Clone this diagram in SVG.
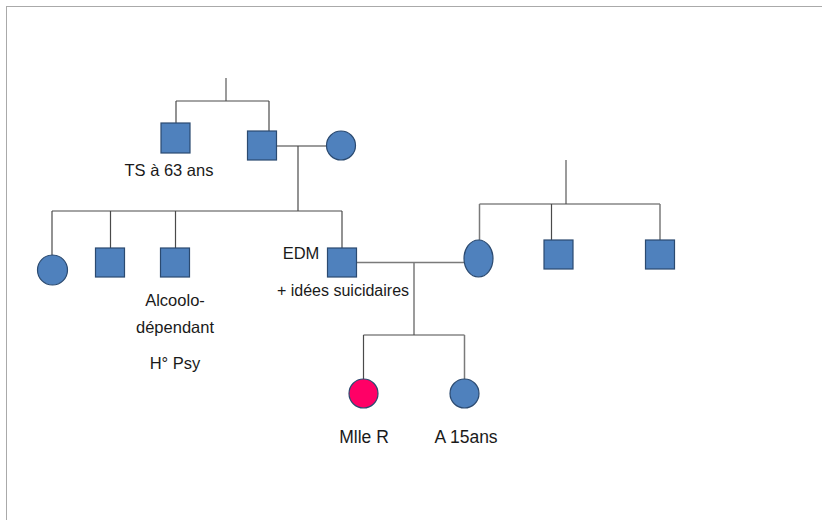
<svg xmlns="http://www.w3.org/2000/svg" width="822" height="520" viewBox="0 0 822 520">
<style>
.m{fill:#4F81BD;stroke:#2B4A70;stroke-width:1.2}
.p{fill:#FF0066;stroke:#2B4A70;stroke-width:1.2}
.l{stroke:#4a4a4a;stroke-width:1.2;fill:none}
.g{stroke:#7a7a7a;stroke-width:1.5;fill:none}
text{font-family:"Liberation Sans",Arial,sans-serif;font-size:16.5px;fill:#1a1a1a;text-anchor:middle}
</style>
<rect x="6.5" y="6.5" width="830" height="530" fill="#fff" stroke="#555" stroke-width="1" stroke-dasharray="1,1"/>
<g id="connectors">
<path class="g" d="M226 78V101"/>
<path class="l" d="M176 101H269"/>
<path class="l" d="M176 101V123"/>
<path class="l" d="M269 101V131"/>
<path class="g" d="M277 146H327"/>
<path class="l" d="M298 146V211"/>
<path class="l" d="M52 211H342"/>
<path class="l" d="M52 211V255"/>
<path class="l" d="M110.5 211V248"/>
<path class="l" d="M175.5 211V248"/>
<path class="l" d="M342 211V248"/>
<path class="g" d="M356 262.5H464"/>
<path class="g" d="M414 262.5V335"/>
<path class="l" d="M363.5 335H464.5"/>
<path class="l" d="M363.5 335V379"/>
<path class="g" d="M464.5 335V379"/>
<path class="g" d="M566 160V204"/>
<path class="l" d="M479.5 204H660"/>
<path class="g" d="M479.5 204V240"/>
<path class="l" d="M551.5 204V240"/>
<path class="g" d="M660 204V240"/>
</g>
<g id="n-ts"><rect class="m" x="161" y="123" width="29" height="30"/><text x="169" y="176">TS à 63 ans</text></g>
<g id="n-gf"><rect class="m" x="247.5" y="131" width="29" height="29"/></g>
<g id="n-gm"><circle class="m" cx="341" cy="145.5" r="14.5"/></g>
<g id="n-aunt"><circle class="m" cx="52.5" cy="270" r="15"/></g>
<g id="n-u1"><rect class="m" x="95.5" y="248" width="29" height="29"/></g>
<g id="n-u2"><rect class="m" x="160.5" y="248" width="29" height="29"/><text x="175" y="306">Alcoolo-</text><text x="175" y="333">dépendant</text><text x="175" y="369">H° Psy</text></g>
<g id="n-father"><rect class="m" x="327.5" y="248" width="29" height="29"/><text x="301" y="259">EDM</text><text x="343" y="296" style="font-size:16px">+ idées suicidaires</text></g>
<g id="n-mother"><ellipse class="m" cx="478.5" cy="258.5" rx="14.5" ry="18.5"/></g>
<g id="n-mu1"><rect class="m" x="544" y="240" width="29" height="29"/></g>
<g id="n-mu2"><rect class="m" x="645.5" y="240" width="29" height="29"/></g>
<g id="n-mlle"><circle class="p" cx="363.5" cy="393.5" r="14.5"/><text x="364" y="443" style="font-size:17.5px">Mlle R</text></g>
<g id="n-a"><circle class="m" cx="464.5" cy="393.5" r="14.5"/><text x="466" y="443" style="font-size:17.5px">A 15ans</text></g>
</svg>
